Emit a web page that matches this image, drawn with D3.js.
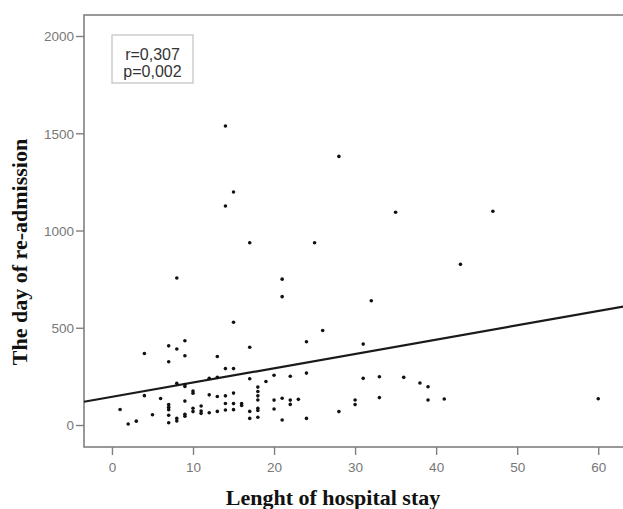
<!DOCTYPE html>
<html>
<head>
<meta charset="utf-8">
<script src="https://cdn.jsdelivr.net/npm/d3@7"></script>
<style>
  body { margin: 0; background: #fff; }
  svg { display: block; }
</style>
</head>
<body>
<svg></svg>
<script>
// length of hospital stay (days) for each patient
var stay = [
  1, 2, 3, 4, 4, 5, 6,
  7, 7, 7, 7, 7, 7, 7,
  8, 8, 8, 8, 8,
  9, 9, 9, 9, 9, 9, 9,
  10, 10, 10, 10,
  11, 11, 11,
  12, 12, 12,
  13, 13, 13, 13,
  14, 14, 14, 14, 14, 14,
  15, 15, 15, 15, 15, 15,
  16, 16,
  17, 17, 17, 17, 17,
  18, 18, 18, 18, 18, 18, 18,
  19, 20, 20, 20,
  21, 21, 21, 21,
  22, 22, 22, 23,
  24, 24, 24, 25, 26, 28, 28,
  30, 30, 31, 31, 32, 33, 33,
  35, 36, 38, 39, 39, 41, 43, 47, 60
];
// day of re-admission, same order
var readmit = [
  80, 5, 20, 368, 151, 53, 136,
  407, 325, 105, 92, 79, 50, 12,
  756, 391, 214, 34, 21,
  433, 356, 208, 198, 123, 55, 45,
  175, 163, 86, 69,
  98, 72, 60,
  240, 155, 63,
  352, 245, 147, 70,
  1537, 1126, 290, 150, 111, 77,
  1198, 528, 290, 164, 110, 79,
  111, 100,
  937, 400, 238, 70, 34,
  195, 172, 150, 129, 86, 75, 40,
  224, 256, 128, 82,
  750, 660, 138, 26,
  251, 128, 106, 132,
  428, 267, 34, 937, 486, 1381, 69,
  129, 105, 416, 240, 639, 248, 141,
  1094, 245, 216, 197, 129, 134, 826, 1099, 135
];

var xTicks = [0, 10, 20, 30, 40, 50, 60];
var yTicks = [0, 500, 1000, 1500, 2000];
var statLines = ["r=0,307", "p=0,002"];

// fit line
var fitIntercept = 145;
var fitSlope = 7.35;

var screen = { width: 623, height: 509 };
var margins = { top: 15, left: 84, bottom: 62, right: -4 };
var width = screen.width - margins.left - margins.right;
var height = screen.height - margins.top - margins.bottom;

var svg = d3.select("svg")
  .attr("width", screen.width)
  .attr("height", screen.height);

var xScale = d3.scaleLinear()
  .domain([-3.45, 63.55])
  .range([0, width]);
var yScale = d3.scaleLinear()
  .domain([-113, 2108])
  .range([height, 0]);

var plot = svg.append("g")
  .attr("transform", "translate(" + margins.left + "," + margins.top + ")");

// frame
plot.append("rect")
  .attr("x", 0).attr("y", 0)
  .attr("width", width).attr("height", height)
  .attr("fill", "none")
  .attr("stroke", "#808080")
  .attr("stroke-width", 1.6);

var xAxis = d3.axisBottom(xScale)
  .tickValues(xTicks)
  .tickFormat(d3.format("d"))
  .tickSize(8)
  .tickSizeOuter(0);
var gx = plot.append("g")
  .attr("transform", "translate(0," + height + ")")
  .call(xAxis);

var yAxis = d3.axisLeft(yScale)
  .tickValues(yTicks)
  .tickFormat(d3.format("d"))
  .tickSize(8)
  .tickSizeOuter(0);
var gy = plot.append("g").call(yAxis);

[gx, gy].forEach(function(g) {
  g.select(".domain").remove();
  g.selectAll(".tick line").attr("stroke", "#808080").attr("stroke-width", 1.4);
  g.selectAll(".tick text")
    .attr("fill", "#777")
    .style("font-family", "Liberation Sans, Arial, sans-serif")
    .style("font-size", "13.5px");
});
gx.selectAll(".tick text").attr("dy", "1.05em");
gy.selectAll(".tick text").attr("x", -10).attr("dy", "0.36em");

// regression line
var ends = xScale.domain();
var drawLine = d3.line()
  .x(function(d) { return xScale(d); })
  .y(function(d) { return yScale(fitIntercept + fitSlope * d); });
plot.append("path")
  .datum(ends)
  .attr("d", drawLine)
  .attr("fill", "none")
  .attr("stroke", "#1a1a1a")
  .attr("stroke-width", 2.2);

// points
plot.selectAll("circle.pt")
  .data(stay)
  .enter()
  .append("circle")
  .classed("pt", true)
  .attr("cx", function(d) { return xScale(d); })
  .attr("cy", function(d, i) { return yScale(readmit[i]); })
  .attr("r", 1.8)
  .attr("fill", "#111");

// stats box
var box = plot.append("g").attr("transform", "translate(28,20)");
box.append("rect")
  .attr("width", 81).attr("height", 48)
  .attr("fill", "#fff")
  .attr("stroke", "#c0c0c0")
  .attr("stroke-width", 1.2);
box.selectAll("text")
  .data(statLines)
  .enter()
  .append("text")
  .attr("x", 40.5)
  .attr("y", function(d, i) { return 24.5 + i * 17.5; })
  .attr("text-anchor", "middle")
  .attr("fill", "#333")
  .style("font-family", "Liberation Sans, Arial, sans-serif")
  .style("font-size", "16px")
  .text(function(d) { return d; });

// axis titles
svg.append("text")
  .attr("x", 333)
  .attr("y", 505)
  .attr("text-anchor", "middle")
  .style("font-family", "Liberation Serif, Times New Roman, serif")
  .style("font-weight", "bold")
  .style("font-size", "22px")
  .attr("fill", "#111")
  .text("Lenght of hospital stay");

svg.append("text")
  .attr("transform", "translate(27,252) rotate(-90)")
  .attr("text-anchor", "middle")
  .style("font-family", "Liberation Serif, Times New Roman, serif")
  .style("font-weight", "bold")
  .style("font-size", "22px")
  .attr("fill", "#111")
  .text("The day of re-admission");
</script>
</body>
</html>
